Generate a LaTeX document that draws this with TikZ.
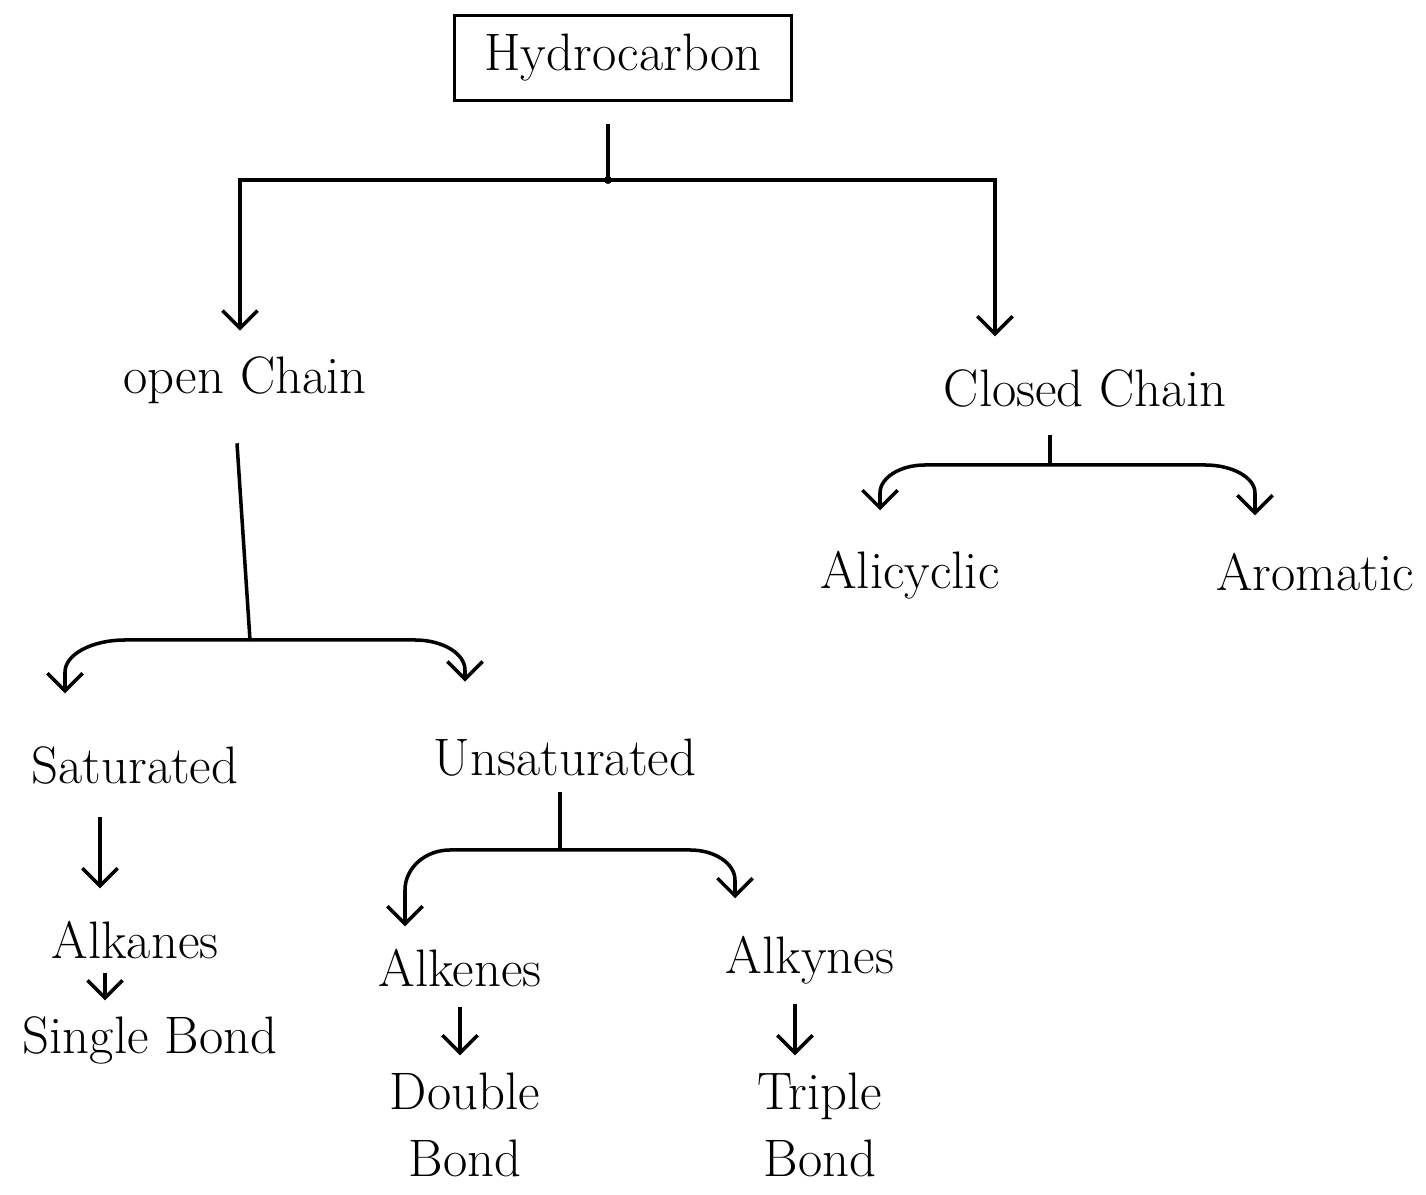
\documentclass[tikz,border=0pt]{standalone}
\usetikzlibrary{arrows.meta,calc}
\begin{document}
\begin{tikzpicture}[x=0.01cm,y=-0.01cm,
  lbl/.style={font=\fontsize{15}{17}\selectfont, inner sep=2pt},
  box/.style={lbl,draw,line width=1pt,minimum width=3.37cm,minimum height=0.85cm},
  con/.style={line width=1pt},
  arr/.style={con,-{Straight Barb[length=5pt,width=10pt]}}]
\fill[white] (0,0) rectangle (1426,1195);
\path[use as bounding box] (0,0) rectangle (1426,1195);

% nodes
\node[box] (hc) at (623,58) {Hydrocarbon};
\node[lbl] (oc) at (245,380) {open Chain};
\node[lbl] (cc) at (1085,388) {Closed Chain};
\node[lbl] (ali) at (910,575) {Alicyclic};
\node[lbl] (aro) at (1315,572) {Aromatic};
\node[lbl] (sat) at (135,765) {Saturated};
\node[lbl] (uns) at (565,758) {Unsaturated};
\node[lbl] (alka) at (135,940) {Alkanes};
\node[lbl] (sb) at (150,1040) {Single Bond};
\node[lbl] (alke) at (460,968) {Alkenes};
\node[lbl,align=center,font=\fontsize{15}{19}\selectfont] (db) at (465,1125) {Double\\Bond};
\node[lbl] (alky) at (810,960) {Alkynes};
\node[lbl,align=center,font=\fontsize{15}{19}\selectfont] (tb) at (820,1125) {Triple\\Bond};

% junctions
\coordinate (hcj) at (608,180);
\coordinate (ocj) at (250,640);
\coordinate (unj) at (560,850);
\coordinate (ccj) at (1050,465);

% arrow end points
\coordinate (tsat) at ($(sat.north)+(-70,-45)$);
\coordinate (tuns) at ($(uns.north)+(-100,-50)$);
\coordinate (tali) at ($(ali.north)+(-30,-33)$);
\coordinate (taro) at ($(aro.north)+(-60,-30)$);
\coordinate (talke) at ($(alke.north)+(-55,-15)$);
\coordinate (talky) at ($(alky.north)+(-75,-30)$);

% corners (c), curve start (a), curve end (b)
\coordinate (csat) at (tsat|-ocj);
\coordinate (asat) at ($(csat)+(60,0)$);  \coordinate (bsat) at ($(csat)+(0,32)$);
\coordinate (cuns) at (tuns|-ocj);
\coordinate (auns) at ($(cuns)+(-50,0)$); \coordinate (buns) at ($(cuns)+(0,30)$);
\coordinate (cali) at (tali|-ccj);
\coordinate (aali) at ($(cali)+(45,0)$);  \coordinate (bali) at ($(cali)+(0,28)$);
\coordinate (caro) at (taro|-ccj);
\coordinate (aaro) at ($(caro)+(-50,0)$); \coordinate (baro) at ($(caro)+(0,28)$);
\coordinate (calke) at (talke|-unj);
\coordinate (aalke) at ($(calke)+(45,0)$); \coordinate (balke) at ($(calke)+(0,40)$);
\coordinate (calky) at (talky|-unj);
\coordinate (aalky) at ($(calky)+(-45,0)$); \coordinate (balky) at ($(calky)+(0,30)$);

% connectors
\draw[con] ($(hc.south -| hcj)+(0,22)$) -- (hcj);
\fill (hcj) circle (4);
\draw[arr] (hcj) -| ($(oc.north)+(-5,-18)$);
\draw[arr] (hcj) -| ($(cc.north)+(-90,-25)$);

\draw[con] ($(oc.south)+(-8,32)$) -- (ocj);
\draw[arr] (ocj) -- (asat) .. controls ($(asat)!0.55!(csat)$) and ($(bsat)!0.55!(csat)$) .. (bsat) -- (tsat);
\draw[arr] (ocj) -- (auns) .. controls ($(auns)!0.55!(cuns)$) and ($(buns)!0.55!(cuns)$) .. (buns) -- (tuns);

\draw[con] ($(cc.south -| ccj)+(0,20)$) -- (ccj);
\draw[arr] (ccj) -- (aali) .. controls ($(aali)!0.55!(cali)$) and ($(bali)!0.55!(cali)$) .. (bali) -- (tali);
\draw[arr] (ccj) -- (aaro) .. controls ($(aaro)!0.55!(caro)$) and ($(baro)!0.55!(caro)$) .. (baro) -- (taro);

\draw[con] ($(uns.south -| unj)+(0,8)$) -- (unj);
\draw[arr] (unj) -- (aalke) .. controls ($(aalke)!0.55!(calke)$) and ($(balke)!0.55!(calke)$) .. (balke) -- (talke);
\draw[arr] (unj) -- (aalky) .. controls ($(aalky)!0.55!(calky)$) and ($(balky)!0.55!(calky)$) .. (balky) -- (talky);

\draw[arr] ($(sat.south)+(-35,25)$) -- ($(alka.north)+(-35,-25)$);
\draw[arr] ($(alka.south)+(-30,6)$) -- ($(sb.north)+(-45,-8)$);
\draw[arr] ($(alke.south)+(0,12)$) -- ($(db.north)+(-5,-10)$);
\draw[arr] ($(alky.south)+(-15,12)$) -- ($(tb.north)+(-25,-10)$);
\end{tikzpicture}
\end{document}
